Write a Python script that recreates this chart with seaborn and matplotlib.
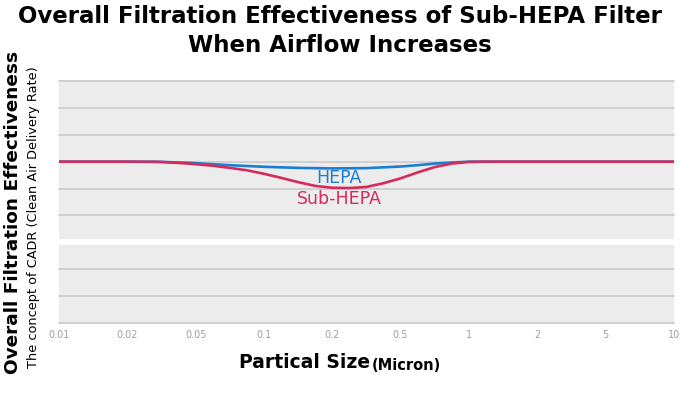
import matplotlib
matplotlib.use("Agg")
import matplotlib.pyplot as plt
import seaborn as sns
import pandas as pd

# Data (x = position on the evenly spaced particle-size axis, 0 = 0.01 µm ... 9 = 10 µm)
tick_labels = ["0.01", "0.02", "0.05", "0.1", "0.2", "0.5", "1", "2", "5", "10"]

hepa_x = [0, 1.0, 1.4, 1.9, 2.5, 3.0, 3.5, 4.0, 4.5, 5.0, 5.25, 5.5, 5.75, 6.0, 9]
hepa_y = [6, 6, 6, 5.96, 5.87, 5.81, 5.77, 5.75, 5.76, 5.82, 5.87, 5.93, 5.97, 6, 6]

sub_x = [0, 1.0, 1.5, 1.9, 2.25, 2.5, 2.75, 3.0, 3.25, 3.5, 3.75, 4.0, 4.25, 4.5,
         4.75, 5.0, 5.25, 5.5, 5.75, 6.0, 6.25, 9]
sub_y = [6, 6, 5.99, 5.93, 5.85, 5.77, 5.68, 5.55, 5.4, 5.24, 5.1, 5.03, 5.02, 5.06,
         5.2, 5.38, 5.6, 5.8, 5.93, 5.99, 6, 6]

df = pd.concat([
    pd.DataFrame({"x": hepa_x, "y": hepa_y, "filter": "HEPA"}),
    pd.DataFrame({"x": sub_x, "y": sub_y, "filter": "Sub-HEPA"}),
])

sns.set_theme(style="white")
plt.rcParams["font.family"] = ["DejaVu Sans"]

fig = plt.figure(figsize=(6.8, 3.98), dpi=100)
ax = fig.add_axes([0.0868, 0.1884, 0.904, 0.608])
ax.set_facecolor("#ececec")

for yv in range(10):
    if yv == 3:
        ax.axhline(yv, color="white", lw=4, zorder=1)
    else:
        ax.axhline(yv, color="#cdcdcd", lw=1.3, zorder=1, clip_on=False)

palette = {"HEPA": "#1a7fd4", "Sub-HEPA": "#d42a5c"}
sns.lineplot(data=df, x="x", y="y", hue="filter", palette=palette,
             hue_order=["HEPA", "Sub-HEPA"], lw=1.9, ax=ax, legend=False,
             zorder=3, estimator=None, sort=True)

ax.set_xlim(0, 9)
ax.set_ylim(0, 9)
ax.set_xticks(range(len(tick_labels)))
ax.set_xticklabels(tick_labels, fontsize=7, color="#a0a0a0")
ax.set_yticks([])
ax.tick_params(axis="x", length=0, pad=5)
for s in ax.spines.values():
    s.set_visible(False)
ax.set_xlabel("")
ax.set_ylabel("")

ax.text(4.1, 5.4, "HEPA", color="#1a7fd4", fontsize=12.5, ha="center", va="center", zorder=4)
ax.text(4.1, 4.6, "Sub-HEPA", color="#d42a5c", fontsize=12.5, ha="center", va="center", zorder=4)

fig.text(0.5, 0.958, "Overall Filtration Effectiveness of Sub-HEPA Filter",
         ha="center", va="center", fontsize=16.5, fontweight="bold", color="black")
fig.text(0.5, 0.885, "When Airflow Increases",
         ha="center", va="center", fontsize=16.5, fontweight="bold", color="black")

fig.text(0.019, 0.465, "Overall Filtration Effectiveness", rotation=90,
         ha="center", va="center", fontsize=13.3, fontweight="bold", color="black")
fig.text(0.049, 0.455, "The concept of CADR (Clean Air Delivery Rate)", rotation=90,
         ha="center", va="center", fontsize=9.3, color="black")

fig.text(0.544, 0.088, "Partical Size", ha="right", va="center",
         fontsize=13.5, fontweight="bold", color="black")
fig.text(0.546, 0.082, "(Micron)", ha="left", va="center",
         fontsize=10.5, fontweight="bold", color="black")

fig.savefig("out.png", dpi=100, facecolor="white")
